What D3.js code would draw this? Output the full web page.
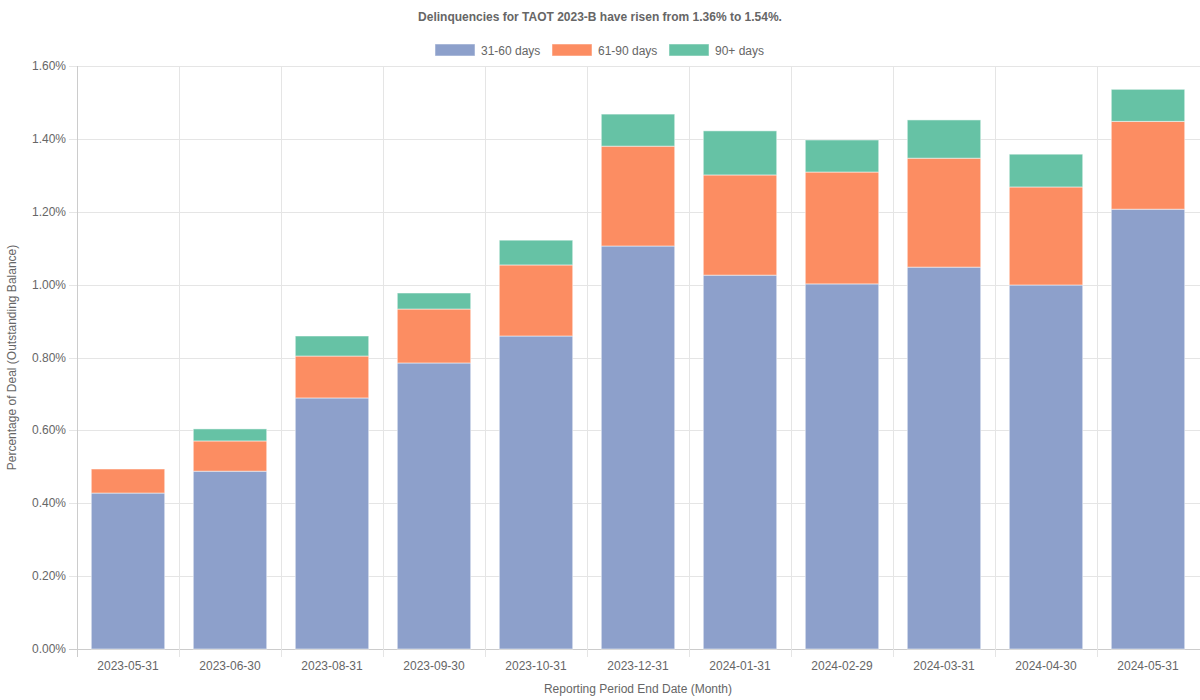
<!DOCTYPE html>
<html><head><meta charset="utf-8">
<script src="https://cdn.jsdelivr.net/npm/d3@7"></script>
<style>body{margin:0;background:#fff}svg{display:block}text{font-family:"Liberation Sans",Arial,sans-serif}</style>
</head><body><svg id="c" width="1200" height="700"></svg>
<script>
const categories = ["2023-05-31","2023-06-30","2023-08-31","2023-09-30","2023-10-31","2023-12-31","2024-01-31","2024-02-29","2024-03-31","2024-04-30","2024-05-31"];
const seriesNames = ["31-60 days","61-90 days","90+ days"];
const d31_60 = [0.428,0.488,0.689,0.785,0.859,1.106,1.026,1.002,1.048,0.999,1.207];
const d61_90 = [0.066,0.083,0.115,0.148,0.195,0.274,0.275,0.307,0.299,0.269,0.241];
const d90p   = [0.000,0.033,0.055,0.044,0.068,0.088,0.121,0.088,0.105,0.090,0.088];
const colors = ["#8da0cb","#fc8d62","#66c2a5"];
const yTicks = [0,0.2,0.4,0.6,0.8,1.0,1.2,1.4,1.6];

const svg = d3.select("#c");
const L=77, R=1199, T=66, B=649;
const x = d3.scaleBand().domain(categories).range([L,R]);
const y = d3.scaleLinear().domain([0,1.6]).range([B,T]);
const txt="#666";

// grid
const g = svg.append("g");
g.selectAll(".hg").data(yTicks).join("line")
  .attr("x1",L-8).attr("x2",1200).attr("y1",d=>Math.round(y(d))+0.5).attr("y2",d=>Math.round(y(d))+0.5)
  .attr("stroke",(d)=>d===0?"#ccc":"#e5e5e5").attr("stroke-width",1);
const bounds = categories.map(c=>x(c));
g.selectAll(".vg").data(bounds).join("line")
  .attr("x1",d=>Math.round(d)+0.5).attr("x2",d=>Math.round(d)+0.5).attr("y1",T).attr("y2",B+8)
  .attr("stroke",(d,i)=>i===0?"#ccc":"#e5e5e5");

// y labels
svg.append("g").selectAll("text").data(yTicks).join("text")
  .attr("x",L-11).attr("y",d=>y(d)+4).attr("text-anchor","end").attr("font-size",12).attr("fill",txt)
  .text(d=>d.toFixed(2)+"%");

// bars
const table = categories.map((c,i)=>({cat:c,"31-60 days":d31_60[i],"61-90 days":d61_90[i],"90+ days":d90p[i]}));
const stack = d3.stack().keys(seriesNames)(table);
const bw = x.bandwidth()*0.72;
svg.append("g").selectAll("g").data(stack).join("g").attr("fill",(d,i)=>colors[i])
  .selectAll("rect").data(d=>d).join("rect")
  .attr("x",d=>x(d.data.cat)+(x.bandwidth()-bw)/2).attr("width",bw)
  .attr("y",d=>y(d[1])).attr("height",d=>Math.max(0,y(d[0])-y(d[1])))
  .attr("stroke","rgba(255,255,255,0.5)").attr("stroke-width",1);

// x labels
svg.append("g").selectAll("text").data(categories).join("text")
  .attr("x",d=>x(d)+x.bandwidth()/2).attr("y",670).attr("text-anchor","middle").attr("font-size",12).attr("fill",txt)
  .text(d=>d);

svg.append("text").attr("x",(L+R)/2).attr("y",693).attr("text-anchor","middle").attr("font-size",12).attr("fill",txt)
  .text("Reporting Period End Date (Month)");
svg.append("text").attr("transform",`translate(16,${(T+B)/2}) rotate(-90)`).attr("text-anchor","middle").attr("font-size",12).attr("fill",txt)
  .text("Percentage of Deal (Outstanding Balance)");

svg.append("text").attr("x",600).attr("y",21).attr("text-anchor","middle").attr("font-size",12).attr("font-weight","bold").attr("fill",txt)
  .text("Delinquencies for TAOT 2023-B have risen from 1.36% to 1.54%.");

// legend
const legX = [435,552,669];
const lg = svg.append("g").selectAll("g").data(seriesNames).join("g").attr("transform",(d,i)=>`translate(${legX[i]},44)`);
lg.append("rect").attr("width",40).attr("height",12).attr("fill",(d,i)=>colors[i]).attr("stroke","rgba(255,255,255,0.5)");
lg.append("text").attr("x",46).attr("y",10.5).attr("font-size",12).attr("fill",txt).text(d=>d);
</script></body></html>
